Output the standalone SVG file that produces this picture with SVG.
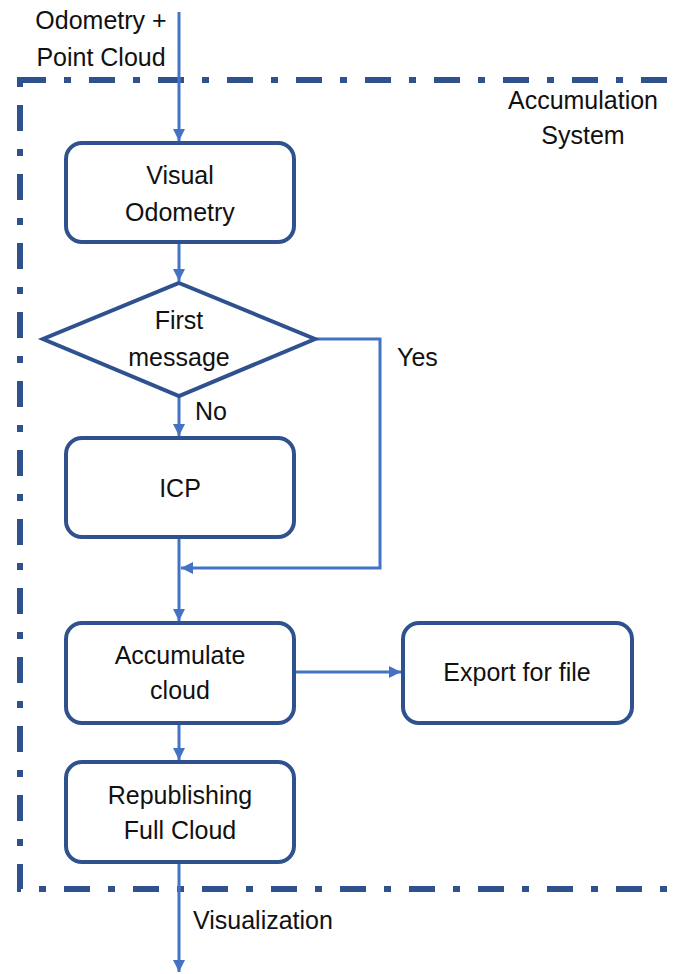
<svg xmlns="http://www.w3.org/2000/svg" width="684" height="974" viewBox="0 0 684 974">
<defs>
<style>
.box{fill:#fff;stroke:#2F528F;stroke-width:4}
.con{fill:none;stroke:#4472C4;stroke-width:3}
.t{font-family:"Liberation Sans",Arial,sans-serif;font-size:25px;fill:#111}
.m{text-anchor:middle}
</style>
<marker id="ah" viewBox="0 0 10 10" refX="10" refY="5" markerWidth="4" markerHeight="4" orient="auto" markerUnits="strokeWidth">
<path d="M0,0 L10,5 L0,10 z" fill="#4472C4"/>
</marker>
</defs>
<rect width="684" height="974" fill="#fff"/>
<g id="boundary">
<rect x="20" y="80" width="700" height="809" fill="none" stroke="#2F528F" stroke-width="6" stroke-dasharray="26 18 7 18"/>
<text class="t m" x="583" y="109">Accumulation</text>
<text class="t m" x="583" y="144">System</text>
</g>
<g id="connectors">
<path class="con" d="M179,12 V141" marker-end="url(#ah)"/>
<path class="con" d="M179,242 V281" marker-end="url(#ah)"/>
<path class="con" d="M179,396 V436" marker-end="url(#ah)"/>
<path class="con" d="M315,339 H380 V568 H181" marker-end="url(#ah)"/>
<path class="con" d="M179,537 V621" marker-end="url(#ah)"/>
<path class="con" d="M294,672 H401" marker-end="url(#ah)"/>
<path class="con" d="M179,723 V760" marker-end="url(#ah)"/>
<path class="con" d="M179,862 V972" marker-end="url(#ah)"/>
<text class="t m" x="101" y="29">Odometry +</text>
<text class="t m" x="101" y="66">Point Cloud</text>
<text class="t" x="397" y="366">Yes</text>
<text class="t" x="195" y="420">No</text>
<text class="t" x="193" y="929">Visualization</text>
</g>
<g id="visual-odometry">
<rect class="box" x="66" y="143" width="228" height="99" rx="16"/>
<text class="t m" x="180" y="184">Visual</text>
<text class="t m" x="180" y="221">Odometry</text>
</g>
<g id="first-message">
<path class="box" d="M179,283 L315,339 L179,396 L43,339 Z"/>
<text class="t m" x="179" y="329">First</text>
<text class="t m" x="179" y="366">message</text>
</g>
<g id="icp">
<rect class="box" x="66" y="438" width="228" height="99" rx="16"/>
<text class="t m" x="180" y="497">ICP</text>
</g>
<g id="accumulate-cloud">
<rect class="box" x="66" y="623" width="228" height="100" rx="16"/>
<text class="t m" x="180" y="664">Accumulate</text>
<text class="t m" x="180" y="699">cloud</text>
</g>
<g id="export-file">
<rect class="box" x="403" y="623" width="229" height="100" rx="16"/>
<text class="t m" x="517" y="681">Export for file</text>
</g>
<g id="republishing">
<rect class="box" x="66" y="762" width="228" height="100" rx="16"/>
<text class="t m" x="180" y="804">Republishing</text>
<text class="t m" x="180" y="839">Full Cloud</text>
</g>
</svg>
